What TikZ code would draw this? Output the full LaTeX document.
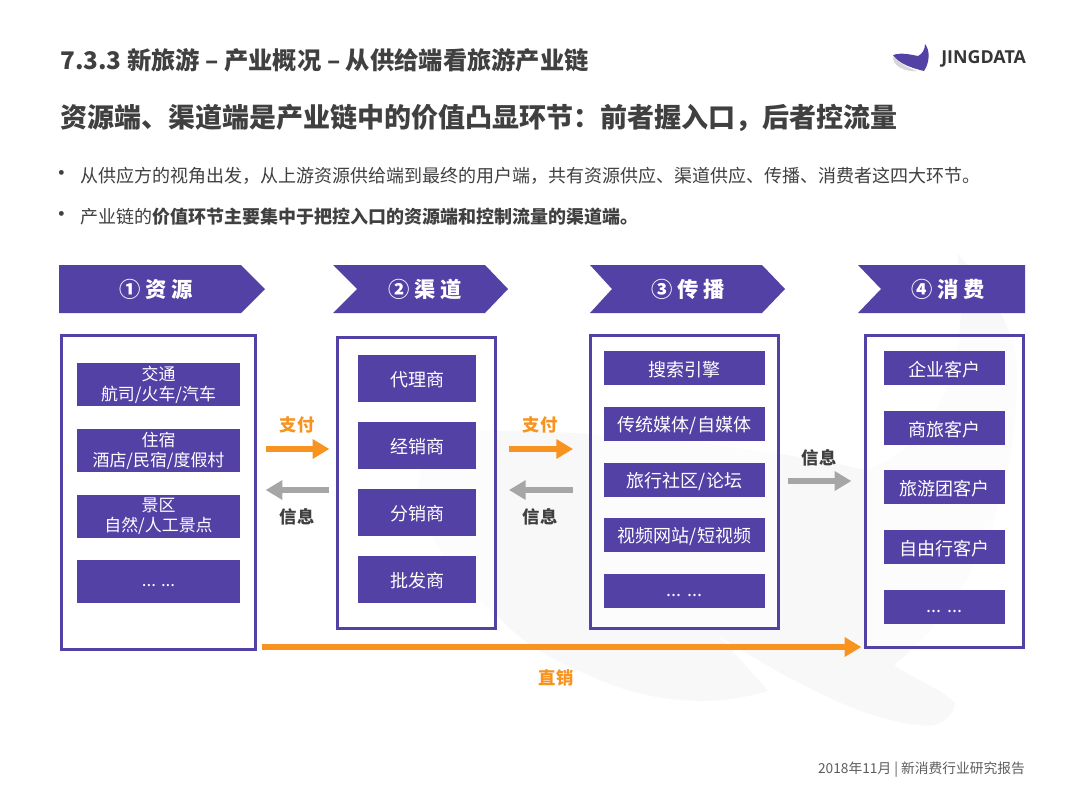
\documentclass[tikz,border=0pt]{standalone}
\usepackage{fontspec}
\setmainfont{Noto Sans CJK SC}
\newfontfamily\logofont{Open Sans}
\usetikzlibrary{arrows.meta}
\definecolor{jingpurple}{HTML}{5341A6}
\definecolor{payorange}{HTML}{F7931E}
\definecolor{infogray}{HTML}{A6A6A6}
\definecolor{textgray}{HTML}{404040}
\definecolor{markgray}{HTML}{F8F8F8}
\newcommand{\moredots}{\raisebox{3pt}{... ...}}

\begin{document}
\begin{tikzpicture}[x=0.75pt,y=-0.75pt,
  stagebox/.style={draw=jingpurple,line width=2.6pt,fill=white,fill opacity=0.7,inner sep=0pt},
  itembox/.style={fill=jingpurple,text=white,inner sep=0pt,align=center,font=\fontsize{13.5}{15}\selectfont,execute at begin node={\rule{0pt}{13.5pt}}},
  twoline/.style={font=\fontsize{12.7}{15}\selectfont},
  headtext/.style={text=white,font=\fontsize{16}{18}\selectfont\bfseries},
  flowlabel/.style={font=\fontsize{13}{15}\selectfont\bfseries},
  payarrow/.style={draw=payorange,line width=5pt,-{Triangle[length=12.5pt,width=14pt]}},
  infoarrow/.style={draw=infogray,line width=5pt,-{Triangle[length=12.5pt,width=14pt]}}]
  \useasboundingbox (0,0) rectangle (1080,810);
  \fill[white] (0,0) rectangle (1080,810);

  % whale mark behind the boxes
  \fill[markgray] (470,431) .. controls (570,428) and (760,445) .. (865,470)
    .. controls (930,450) and (975,370) .. (957,253)
    .. controls (990,290) and (1017,330) .. (1017,373)
    .. controls (1017,480) and (985,590) .. (894,665)
    .. controls (915,680) and (945,690) .. (955,704)
    .. controls (950,722) and (935,728) .. (919,725)
    .. controls (860,720) and (780,675) .. (719,636)
    .. controls (735,655) and (755,675) .. (768,691)
    .. controls (730,702) and (700,702) .. (682,700)
    .. controls (640,697) and (610,685) .. (584,673)
    .. controls (550,660) and (520,640) .. (502,620)
    .. controls (450,580) and (410,510) .. (419,480)
    .. controls (425,455) and (445,435) .. (470,431) -- cycle;

  % heading
  \node[anchor=west,inner sep=0pt,text=textgray,font=\fontsize{18.2}{20}\selectfont\bfseries] (title) at (60,60) {7.3.3 新旅游 – 产业概况 – 从供给端看旅游产业链};
  \node[anchor=west,inner sep=0pt,text=textgray,font=\fontsize{20.25}{24}\selectfont\bfseries] (headline) at (60,118) {资源端、渠道端是产业链中的价值凸显环节：前者握入口，后者控流量};
  \node[text=textgray,font=\fontsize{17}{17}\selectfont] (dota) at (62,176) {•};
  \node[anchor=west,inner sep=0pt,text=textgray,font=\fontsize{13.5}{15}\selectfont] (lineone) at (80,176) {从供应方的视角出发，从上游资源供给端到最终的用户端，共有资源供应、渠道供应、传播、消费者这四大环节。};
  \node[text=textgray,font=\fontsize{17}{17}\selectfont] (dotb) at (62,217) {•};
  \node[anchor=west,inner sep=0pt,text=textgray,font=\fontsize{13.5}{15}\selectfont] (linetwo) at (80,217) {产业链的\textbf{价值环节主要集中于把控入口的资源端和控制流量的渠道端。}};

  % logo
  \fill[infogray!45] (893,56) .. controls (899,63) and (908,68) .. (917,71)
    .. controls (905,72) and (892,66) .. (893,56) -- cycle;
  \fill[jingpurple] (893,55) .. controls (902,52) and (912,55) .. (918,56)
    .. controls (922,54) and (925,50) .. (925,44)
    .. controls (930,50) and (930,62) .. (924,71)
    .. controls (912,68) and (899,64) .. (893,55) -- cycle;
  \node[anchor=west,inner sep=0pt,text=textgray!85!black,font=\logofont\fontsize{13.4}{15}\selectfont\bfseries] (logo) at (941,59) {JINGDATA};

  % stage headers
  \fill[jingpurple] (59,265) -- (241,265) -- (265,289) -- (241,313) -- (59,313) -- cycle;
  \fill[jingpurple] (333,265) -- (485,265) -- (508,289) -- (485,313) -- (333,313) -- (357,289) -- cycle;
  \fill[jingpurple] (590,265) -- (762,265) -- (785,289) -- (762,313) -- (590,313) -- (612,289) -- cycle;
  \fill[jingpurple] (858,265) -- (1025,265) -- (1025,313) -- (858,313) -- (881,289) -- cycle;
  \node[headtext] (headres) at (156,289.5) {① 资 源};
  \node[headtext] (headchan) at (425,289.5) {② 渠 道};
  \node[headtext] (headprop) at (688,289.5) {③ 传 播};
  \node[headtext] (headuser) at (948,289.5) {④ 消 费};

  % stage boxes
  \node[stagebox,minimum width=193.5pt*0.75,minimum height=313.5pt*0.75] (resbox) at (158.5,492.5) {};
  \node[stagebox,minimum width=157.5pt*0.75,minimum height=290.5pt*0.75] (chanbox) at (416.5,483) {};
  \node[stagebox,minimum width=187.5pt*0.75,minimum height=292.5pt*0.75] (propbox) at (684.5,482) {};
  \node[stagebox,minimum width=157.5pt*0.75,minimum height=311.5pt*0.75] (userbox) at (944.5,491.5) {};

  \foreach \i/\y/\txt in {1/384.5/{交通\\航司/火车/汽车},2/450.5/{住宿\\酒店/民宿/度假村},3/516/{景区\\自然/人工景点},4/581.5/{\moredots}}
    \node[itembox,twoline,minimum width=163pt*0.75,minimum height=43pt*0.75] (res\i) at (158.5,\y) {\txt};
  \foreach \i/\y/\txt in {1/378.5/代理商,2/445.5/经销商,3/512.5/分销商,4/579.5/批发商}
    \node[itembox,minimum width=118pt*0.75,minimum height=47pt*0.75] (chan\i) at (417,\y) {\txt};
  \foreach \i/\y/\txt in {1/368/搜索引擎,2/424/{传统媒体/自媒体},3/480/{旅行社区/论坛},4/535/{视频网站/短视频},5/591/{\moredots}}
    \node[itembox,minimum width=161pt*0.75,minimum height=34pt*0.75] (prop\i) at (684.5,\y) {\txt};
  \foreach \i/\y/\txt in {1/368/企业客户,2/428/商旅客户,3/487/旅游团客户,4/547/自由行客户,5/607/{\moredots}}
    \node[itembox,minimum width=121pt*0.75,minimum height=34pt*0.75] (user\i) at (944.5,\y) {\txt};

  % flows
  \coordinate (payrow) at (0,449);
  \coordinate (inforow) at (0,490);
  \coordinate (msgrow) at (0,481);
  \coordinate (directrow) at (0,647);
  \draw[payarrow,shorten <=6.5pt,shorten >=5pt] (resbox.east |- payrow) -- (chanbox.west |- payrow);
  \draw[infoarrow,shorten <=5pt,shorten >=6.5pt] (chanbox.west |- inforow) -- (resbox.east |- inforow);
  \draw[payarrow,shorten <=9pt,shorten >=12pt] (chanbox.east |- payrow) -- (propbox.west |- payrow);
  \draw[infoarrow,shorten <=12pt,shorten >=9pt] (propbox.west |- inforow) -- (chanbox.east |- inforow);
  \draw[infoarrow,shorten <=6pt,shorten >=9.5pt] (propbox.east |- msgrow) -- (userbox.west |- msgrow);
  \draw[payarrow,shorten <=3.5pt,shorten >=2pt] (resbox.east |- directrow) -- (userbox.west |- directrow);
  \node[flowlabel,text=payorange] (payone) at (297,425) {支付};
  \node[flowlabel,text=payorange] (paytwo) at (540,425) {支付};
  \node[flowlabel,text=textgray] (infoone) at (297,516.5) {信息};
  \node[flowlabel,text=textgray] (infotwo) at (540,516.5) {信息};
  \node[flowlabel,text=textgray] (infothree) at (819,457.5) {信息};
  \node[flowlabel,text=payorange] (direct) at (556,677.5) {直销};

  \node[anchor=east,inner sep=0pt,text=textgray!85,font=\fontsize{10.3}{12}\selectfont] (footer) at (1025,770) {2018年11月 | 新消费行业研究报告};
\end{tikzpicture}
\end{document}
